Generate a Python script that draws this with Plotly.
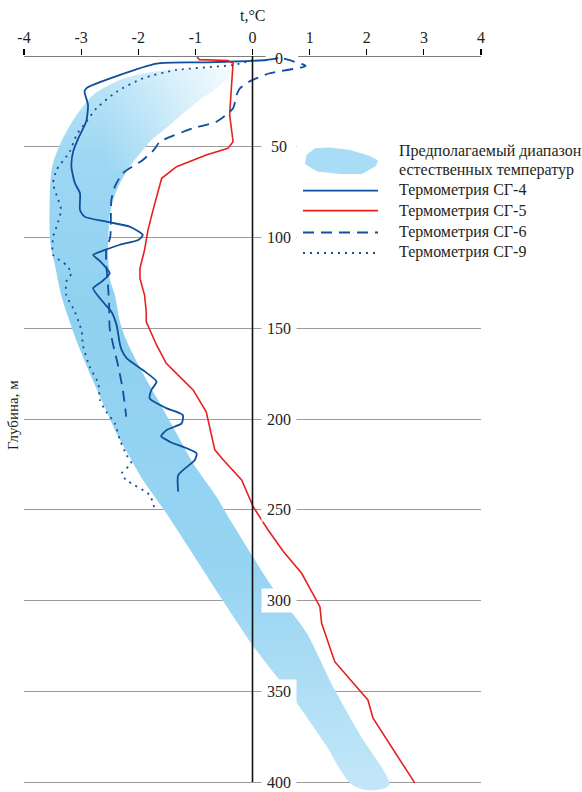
import plotly.graph_objects as go

# ---------------- data (t in °C, depth in m) ----------------
sg4_t = [0.45, 0.25, -0.1, -0.8, -1.68, -2.91, -2.94, -2.88, -2.91, -3.05, -3.14, -3.17, -3.11, -3.02, -3.02,
         -2.94, -2.56, -2.15, -1.92, -2.0, -2.32, -2.59, -2.79, -2.67, -2.5, -2.64, -2.79, -2.62, -2.47, -2.38,
         -2.32, -2.29, -2.2, -1.92, -1.68, -1.77, -1.8, -1.51, -1.22, -1.24, -1.5, -1.6, -1.45, -0.98, -1.01,
         -1.30, -1.30]
sg4_d = [1.2, 2.2, 2.8, 3.5, 4.2, 17.8, 19.6, 27, 36, 45.4, 52.7, 61, 70, 75.6, 84.8,
         88.5, 91.3, 94, 98.6, 101.4, 104, 107, 109.6, 113, 119.7, 124.3, 128, 135.4, 140.9, 148.2,
         159, 162, 166.6, 173, 179.4, 184, 188.6, 194, 197.8, 202.4, 206, 209.5, 212.5, 218.9, 222.6,
         230.9, 240]

sg5_t = [-0.97, -0.93, -0.43, -0.34, -0.37, -0.40, -0.34, -0.43, -0.81, -1.04, -1.33, -1.59, -1.65, -1.74,
         -1.83, -1.89, -1.97, -1.97, -1.89, -1.86, -1.86, -1.68, -1.51, -1.27, -1.04, -0.81, -0.75, -0.69,
         -0.66, -0.51, -0.19, 0.01, 0.27, 0.54, 0.86, 1.18, 1.21, 1.44, 2.02, 2.11, 2.84]
sg5_d = [0.5, 2.0, 2.5, 4, 17.8, 32.5, 47.2, 50.9, 54.5, 57.3, 61, 67.4, 73.8, 84.8,
         95.9, 106.9, 117, 122.5, 131.7, 140.9, 146.4, 159.2, 169.3, 176.7, 184, 196, 204.2, 211.6,
         217, 222.6, 233.6, 248.2, 261, 273, 285, 303.4, 312.6, 333.7, 354.8, 364.9, 400.5]

sg6_t = [0.55, 0.93, 0.30, -0.05, -0.22, -0.28, -0.34, -0.63, -1.04, -1.62, -1.72, -1.92, -2.27, -2.41,
         -2.47, -2.49, -2.56, -2.56, -2.53, -2.51, -2.50, -2.44, -2.35, -2.27, -2.21]
sg6_d = [1.5, 5.5, 9.5, 14, 17.8, 21.5, 28.8, 36.2, 39.8, 47.2, 51.5, 57.3, 64.6, 72,
         79.3, 99.6, 106.9, 115, 126, 137, 150, 159, 171, 184, 198.7]

sg9_t = [0.01, -0.34, -1.33, -1.92, -2.38, -2.73, -2.91, -3.08, -3.2, -3.43, -3.49, -3.4, -3.35, -3.43,
         -3.49, -3.49, -3.26, -3.17, -3.26, -3.26, -3.11, -2.99, -2.97, -2.85, -2.70, -2.67, -2.56, -2.41,
         -2.32, -2.2, -2.12, -2.29, -2.21, -1.80, -1.71]
sg9_d = [2.2, 5, 7.7, 12.3, 19.7, 28.8, 36.2, 43.5, 52.7, 62.8, 70.1, 79.3, 84.8, 94,
         99.6, 109.6, 115.2, 119.7, 124.4, 131.7, 140.9, 151.9, 159.2, 171.2, 180.3, 189.5, 196, 202.4,
         211.6, 220, 224.4, 230, 233.6, 241.9, 250]

# natural temperature band: left edge (top -> bottom) then right edge (bottom -> top)
band_left_t = [-0.35, -0.9, -1.45, -1.95, -2.32, -2.6, -2.79, -3.08, -3.32, -3.45, -3.52, -3.55, -3.55, -3.52,
               -3.46, -3.35, -3.2, -3.08, -2.85, -2.59, -2.38, -2.15, -1.92, -1.55, -0.95, -0.52, 0.01, 0.65,
               1.30, 1.53, 1.72, 1.92, 2.15, 2.35, 2.40]
band_left_d = [8.5, 7.3, 7.7, 9.8, 13.2, 17.5, 21.5, 32.5, 45.3, 55, 63, 79, 98, 107,
               115, 131.7, 146.4, 157, 174.8, 193.2, 207.9, 221, 233.6, 250, 279, 300, 325, 351,
               380.5, 393, 401, 404, 404.5, 403, 401]
band_right_t = [2.29, 1.94, 1.41, 0.95, 0.54, 0.30, 0.01, -0.46, -0.63, -1.04, -1.33, -1.62, -1.92, -2.21,
                -2.32, -2.41, -2.5, -2.53, -2.5, -2.44, -2.32, -2.15, -1.92, -1.80, -1.45, -1.04, -0.57, -0.4,
                -0.35]
band_right_d = [393.4, 376.9, 347.5, 318, 300.7, 290.5, 276, 252, 242.8, 224.4, 207.9, 191.4, 174.8, 156.5,
                146.4, 131.7, 122.5, 104, 88.5, 79.3, 70.1, 61, 51.8, 47.2, 38, 27, 16, 11,
                8.5]
band_t = band_left_t + band_right_t
band_d = band_left_d + band_right_d

x_ticks = [-4, -3, -2, -1, 0, 1, 2, 3, 4]
x_ticktext = ["-4", "-3", "-2", "-1", "0", "1", "2", "3", "4"]
depth_ticks = [0, 50, 100, 150, 200, 250, 300, 350, 400]

names = ["Предполагаемый диапазон<br>естественных температур", "Термометрия СГ-4",
         "Термометрия СГ-5", "Термометрия СГ-6", "Термометрия СГ-9"]

# ---------------- styling ----------------
W, H = 582, 792
ML, MR, MT, MB = 24, 101, 56, 0
PW, PH = W - ML - MR, H - MT - MB
YMAX = PH / 1.815
BLUE = "#0e4f9e"
RED = "#e4211d"
TXT = "#231f20"
FONT = "Liberation Serif, Times New Roman, serif"


def px(x):
    return (x - ML) / PW


def py(y):
    return 1 - (y - MT) / PH


fig = go.Figure()

fig.add_trace(go.Scatter(
    x=band_t, y=band_d, mode="none", fill="toself", name=names[0].replace("<br>", " "),
    line=dict(shape="spline", smoothing=0.7),
    fillgradient=dict(type="vertical", start=0, stop=405,
                      colorscale=[[0, "#cdebf9"], [0.05, "#b5e2f7"], [0.14, "#9dd7f3"],
                                  [0.35, "#90d1f0"], [0.7, "#96d4f2"], [1, "#c4e7f8"]]),
    hoverinfo="skip", showlegend=False))

# pale highlight on the upper (right-hand) part of the band
top_t = [t for t, d in zip(band_left_t, band_left_d) if d <= 64] + \
        [t for t, d in zip(band_right_t, band_right_d) if d <= 64]
top_d = [d for d in band_left_d if d <= 64] + [d for d in band_right_d if d <= 64]
fig.add_trace(go.Scatter(
    x=top_t, y=top_d, mode="none", fill="toself", line=dict(shape="spline", smoothing=0.7),
    fillgradient=dict(type="horizontal", start=-2.6, stop=-0.3,
                      colorscale=[[0, "rgba(255,255,255,0)"], [0.35, "rgba(255,255,255,0.25)"],
                                  [1, "rgba(255,255,255,0.85)"]]),
    hoverinfo="skip", showlegend=False))

line_specs = [
    (sg4_t, sg4_d, names[1], dict(color=BLUE, width=1.8, shape="spline", smoothing=0.6)),
    (sg5_t, sg5_d, names[2], dict(color=RED, width=1.6)),
    (sg6_t, sg6_d, names[3], dict(color=BLUE, width=1.8, dash="11px,7px", shape="spline", smoothing=0.6)),
    (sg9_t, sg9_d, names[4], dict(color=BLUE, width=1.8, dash="2px,5px", shape="spline", smoothing=0.6)),
]
for t, d, nm, ln in line_specs:
    fig.add_trace(go.Scatter(x=t, y=d, mode="lines", name=nm, line=ln, showlegend=False))

shapes = []
# x axis line (broken around the "0" depth label)
shapes.append(dict(type="line", xref="x", yref="y", x0=-4, x1=0.23, y0=0, y1=0,
                   line=dict(color="black", width=1.2), layer="above"))
shapes.append(dict(type="line", xref="x", yref="y", x0=0.8, x1=4, y0=0, y1=0,
                   line=dict(color="black", width=1.2), layer="above"))
# vertical axis at t = 0
shapes.append(dict(type="line", xref="x", yref="y", x0=0, x1=0, y0=0, y1=400,
                   line=dict(color="#111111", width=1.6), layer="above"))
# white legend background hiding gridlines
shapes.append(dict(type="rect", xref="paper", yref="paper", x0=px(297), x1=px(590),
                   y0=py(264), y1=py(138), fillcolor="white", line=dict(width=0), layer="above"))
# legend swatches
blob = [(315, 148.3), (330, 147.5), (350, 150), (370, 156), (378, 160.5), (376, 166), (362, 174),
        (340, 174), (317, 171.5), (305, 164), (306.5, 155)]
path = "M " + " L ".join(f"{px(a):.5f},{py(b):.5f}" for a, b in blob) + " Z"
shapes.append(dict(type="path", xref="paper", yref="paper", path=path,
                   fillcolor="#a9dcf5", line=dict(width=0), layer="above"))
leg_rows = [(190.7, BLUE, None), (210.7, RED, None), (232.5, BLUE, "11px,7px"), (253, BLUE, "2px,5px")]
for yy, col, dash in leg_rows:
    ln = dict(color=col, width=1.8)
    if dash:
        ln["dash"] = dash
    shapes.append(dict(type="line", xref="paper", yref="paper", x0=px(303), x1=px(378),
                       y0=py(yy), y1=py(yy), line=ln, layer="above"))

annotations = []
for v in depth_ticks:
    a = dict(x=0.47, y=(1.5 if v == 0 else v), xref="x", yref="y", text=str(v), showarrow=False,
             font=dict(family=FONT, size=16, color=TXT), xanchor="center", yanchor="middle")
    if v != 0:
        a.update(bgcolor="white", borderpad=3, width=28)
    annotations.append(a)

annotations.append(dict(x=0, y=py(16), xref="x", yref="paper", text="t,°C", showarrow=False,
                        font=dict(family=FONT, size=16, color=TXT), xanchor="center", yanchor="middle"))
annotations.append(dict(x=px(13), y=py(415), xref="paper", yref="paper", text="Глубина, м",
                        showarrow=False, textangle=-90,
                        font=dict(family=FONT, size=15, color=TXT), xanchor="center", yanchor="middle"))

leg_text = [("Предполагаемый диапазон", 151.5), ("естественных температур", 169.5),
            (names[1], 189.5), (names[2], 210.5), (names[3], 232), (names[4], 252.5)]
for txt, yy in leg_text:
    annotations.append(dict(x=px(397), y=py(yy), xref="paper", yref="paper", text=txt, showarrow=False,
                            font=dict(family=FONT, size=16, color=TXT), xanchor="left", yanchor="middle"))

fig.update_layout(
    width=W, height=H, margin=dict(l=ML, r=MR, t=MT, b=MB, pad=0),
    paper_bgcolor="white", plot_bgcolor="white", showlegend=False,
    shapes=shapes, annotations=annotations,
    xaxis=dict(range=[-4, 4], side="top", tickvals=x_ticks, ticktext=x_ticktext,
               ticks="outside", ticklen=6, tickwidth=1.2, tickcolor="black",
               showline=False, showgrid=False, zeroline=False, fixedrange=True,
               tickfont=dict(family=FONT, size=16, color=TXT)),
    yaxis=dict(range=[YMAX, 0], tickvals=depth_ticks[1:], showticklabels=False,
               showgrid=True, gridcolor="#9b9b9b", gridwidth=1, zeroline=False,
               showline=False, ticks="", fixedrange=True),
)

fig.write_html("out.html", config={"displayModeBar": False, "staticPlot": True},
               post_script="document.body.style.margin='0';document.body.style.overflow='hidden';")
